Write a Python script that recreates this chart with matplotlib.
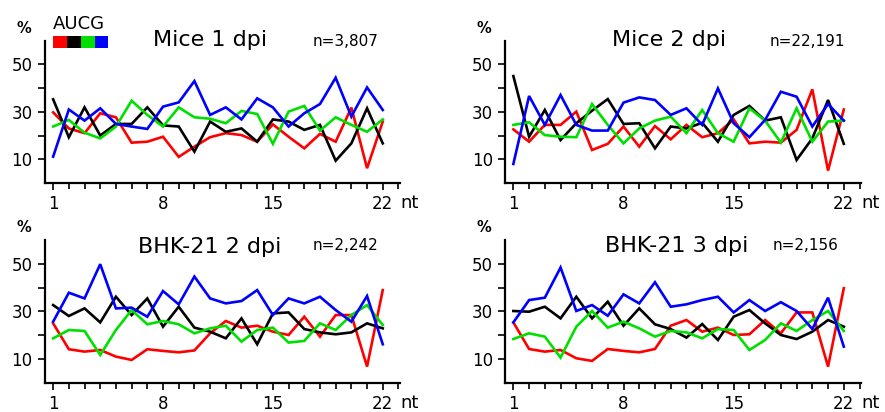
import matplotlib
matplotlib.use("Agg")
import matplotlib.pyplot as plt
from matplotlib.ticker import MultipleLocator, FixedLocator
from matplotlib.patches import Rectangle

plt.rcParams['font.family'] = ['DejaVu Sans']

nt = list(range(1, 23))
bases = ['A', 'U', 'C', 'G']
base_colors = {'A': '#ff0000', 'U': '#000000', 'C': '#00e000', 'G': '#0000ff'}

titles = ['Mice 1 dpi', 'Mice 2 dpi', 'BHK-21 2 dpi', 'BHK-21 3 dpi']
counts = ['n=3,807', 'n=22,191', 'n=2,242', 'n=2,156']

# base composition (%) per position, one list per base and sample
mice1_A = [29.8, 23.0, 21.0, 29.4, 27.7, 17.0, 17.4, 19.5, 11.0, 15.3, 19.3,
           21.0, 20.2, 17.4, 24.7, 19.5, 14.6, 20.7, 17.4, 31.8, 6.2, 25.9]
mice1_U = [35.3, 19.3, 31.9, 20.0, 24.9, 24.9, 31.9, 24.3, 23.8, 13.2, 25.9,
           21.6, 23.0, 17.4, 26.8, 25.9, 22.4, 24.5, 9.4, 16.7, 31.5, 16.7]
mice1_C = [23.8, 26.6, 21.2, 18.8, 23.8, 34.7, 28.7, 23.8, 31.9, 27.7, 27.1,
           25.2, 30.4, 29.1, 16.5, 30.1, 32.5, 22.1, 27.7, 24.5, 21.6, 26.8]
mice1_G = [11.1, 31.0, 26.3, 31.5, 24.9, 23.8, 22.8, 32.2, 34.0, 43.0, 28.7,
           31.9, 26.8, 35.7, 31.9, 23.8, 29.4, 33.3, 44.4, 28.0, 40.3, 30.8]

mice2_A = [22.6, 17.4, 24.5, 24.5, 30.1, 13.9, 16.5, 23.8, 15.3, 24.0, 18.4,
           24.5, 19.3, 21.0, 26.8, 16.7, 17.4, 17.0, 22.4, 39.5, 5.2, 31.0]
mice2_U = [45.1, 19.5, 30.8, 18.1, 25.2, 30.5, 35.4, 24.9, 25.2, 14.6, 23.8,
           23.0, 25.4, 17.4, 28.7, 32.5, 26.3, 27.7, 9.7, 18.8, 35.0, 16.5]
mice2_C = [24.5, 25.6, 20.2, 19.5, 19.3, 33.3, 24.5, 16.7, 23.0, 26.3, 28.0,
           21.0, 30.8, 21.0, 17.4, 31.5, 26.3, 17.0, 31.5, 17.4, 25.9, 26.3]
mice2_G = [8.0, 36.7, 24.5, 37.1, 24.5, 22.1, 22.1, 33.9, 36.1, 35.0, 28.7,
           31.5, 24.5, 39.9, 25.2, 19.3, 26.6, 38.5, 36.4, 23.8, 33.3, 26.3]

bhk2_A = [25.0, 14.1, 13.1, 13.8, 11.0, 9.6, 14.1, 13.4, 12.8, 13.6, 20.8,
          26.0, 23.2, 24.0, 21.5, 20.1, 27.8, 19.4, 28.5, 28.5, 6.8, 39.0]
bhk2_U = [32.7, 28.1, 31.3, 25.4, 36.2, 28.5, 35.5, 23.6, 32.0, 23.2, 21.5,
          18.7, 27.1, 16.2, 29.2, 29.6, 22.6, 21.2, 20.4, 21.2, 25.0, 22.9]
bhk2_C = [18.7, 22.2, 21.8, 11.7, 22.2, 30.6, 24.6, 26.0, 24.6, 20.8, 22.9,
          24.0, 17.3, 22.2, 23.2, 16.9, 17.6, 25.0, 22.2, 28.5, 32.7, 24.3]
bhk2_G = [25.7, 37.9, 35.5, 49.9, 31.3, 31.6, 27.8, 38.6, 33.0, 44.7, 35.5,
          33.4, 34.4, 39.0, 28.5, 35.5, 33.4, 36.2, 30.6, 25.7, 36.5, 16.2]

bhk3_A = [25.4, 14.2, 13.1, 13.8, 10.3, 9.2, 14.2, 13.4, 12.8, 14.2, 24.0,
          26.4, 21.5, 23.2, 20.1, 20.4, 26.4, 20.8, 29.6, 29.6, 6.8, 39.8]
bhk3_U = [30.2, 29.9, 32.0, 27.1, 36.2, 27.1, 34.1, 24.0, 31.3, 24.6, 22.6,
          19.0, 24.7, 18.0, 27.8, 30.6, 25.0, 20.1, 18.4, 21.5, 26.4, 23.6]
bhk3_C = [18.4, 20.8, 19.4, 10.6, 23.6, 30.2, 23.2, 25.7, 22.9, 19.4, 21.8,
          21.2, 18.7, 22.6, 22.2, 13.8, 18.0, 25.0, 21.8, 26.4, 30.2, 21.8]
bhk3_G = [25.4, 34.8, 35.8, 48.5, 30.2, 32.7, 28.2, 37.2, 33.4, 42.3, 32.0,
          33.0, 34.8, 36.2, 29.6, 34.8, 30.2, 33.9, 30.2, 22.6, 35.8, 15.2]

panels = [
    {'A': mice1_A, 'U': mice1_U, 'C': mice1_C, 'G': mice1_G},
    {'A': mice2_A, 'U': mice2_U, 'C': mice2_C, 'G': mice2_G},
    {'A': bhk2_A, 'U': bhk2_U, 'C': bhk2_C, 'G': bhk2_G},
    {'A': bhk3_A, 'U': bhk3_U, 'C': bhk3_C, 'G': bhk3_G},
]

fig = plt.figure(figsize=(8.85, 4.12), dpi=100)

# axes boxes in figure fraction: left, bottom, width, height
boxes = [
    [0.051, 0.556, 0.401, 0.345],
    [0.571, 0.556, 0.402, 0.345],
    [0.051, 0.071, 0.401, 0.346],
    [0.571, 0.071, 0.402, 0.346],
]
title_pos = [(0.304, 0.965), (0.301, 0.965), (0.262, 0.909), (0.279, 0.92)]
count_pos = [(0.755, 0.96), (0.742, 0.96), (0.755, 0.93), (0.751, 0.93)]

for i, box in enumerate(boxes):
    ax = fig.add_axes(box)
    data = panels[i]
    for b in bases:
        ax.plot(nt, data[b], '-', color=base_colors[b], lw=1.9,
                solid_joinstyle='miter')

    ax.set_xlim(0.49, 23.1)
    ax.set_ylim(0, 60)
    ax.xaxis.set_major_locator(FixedLocator([1, 8, 15, 22]))
    ax.xaxis.set_minor_locator(MultipleLocator(1))
    ax.yaxis.set_major_locator(FixedLocator([10, 30, 50]))
    ax.yaxis.set_minor_locator(FixedLocator([20, 40]))
    ax.tick_params(axis='both', which='both', direction='out', width=1.2,
                   labelsize=12)
    ax.tick_params(axis='x', which='major', length=5, pad=4)
    ax.tick_params(axis='x', which='minor', length=4)
    ax.tick_params(axis='y', which='both', length=5, pad=4)
    for s in ['top', 'right']:
        ax.spines[s].set_visible(False)
    for s in ['left', 'bottom']:
        ax.spines[s].set_linewidth(1.6)

    ax.text(title_pos[i][0], title_pos[i][1], titles[i], transform=ax.transAxes,
            fontsize=16, ha='left', va='baseline')
    ax.text(count_pos[i][0], count_pos[i][1], counts[i], transform=ax.transAxes,
            fontsize=11, ha='left', va='baseline')
    ax.text(-0.08, 1.058, '%', transform=ax.transAxes, fontsize=10.5,
            fontweight='bold', ha='left', va='baseline')
    ax.text(1.0, -0.178, 'nt', transform=ax.transAxes, fontsize=13,
            ha='left', va='baseline')

    # colour key for the bases, first panel only
    if i == 0:
        ax.text(0.022, 1.08, ''.join(bases), transform=ax.transAxes,
                fontsize=13, ha='left', va='baseline')
        for k, b in enumerate(bases):
            ax.add_patch(Rectangle((0.0234 + k * 0.0387, 0.95), 0.0387, 0.085,
                                   transform=ax.transAxes, color=base_colors[b],
                                   clip_on=False, lw=0))

fig.savefig('out.png', dpi=100)
